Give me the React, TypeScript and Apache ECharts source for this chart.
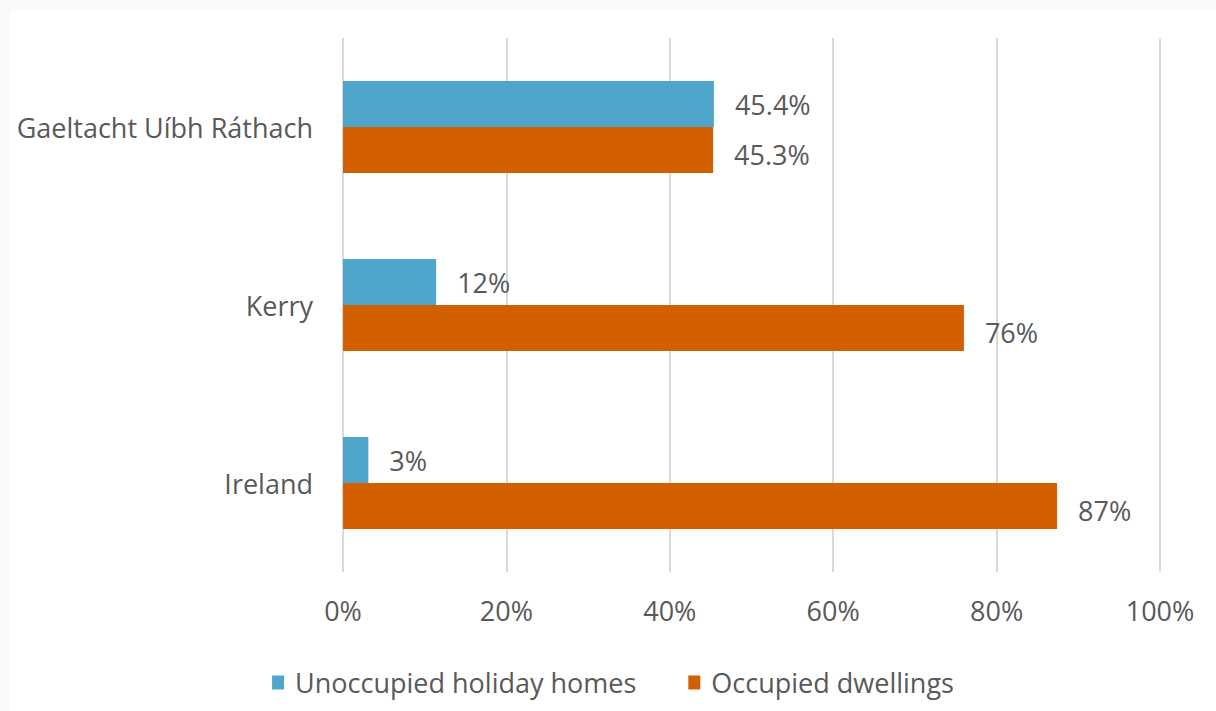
import React, { useEffect, useRef } from "react";
import * as echarts from "echarts";

const categories = ["Gaeltacht Uíbh Ráthach", "Kerry", "Ireland"];
const seriesNames = ["Unoccupied holiday homes", "Occupied dwellings"];
const holidayValues = [45.4, 11.4, 3.1];
const occupiedValues = [45.3, 76.0, 87.4];
const holidayLabels = ["45.4%", "12%", "3%"];
const occupiedLabels = ["45.3%", "76%", "87%"];
const xTicks = [0, 20, 40, 60, 80, 100];

const FONT = "'Open Sans', sans-serif";
const TXT = "#595959";
const FS = 27;

export default function App() {
  const ref = useRef<HTMLDivElement>(null);
  useEffect(() => {
    document.body.style.margin = "0";
    const chart = echarts.init(ref.current!, undefined, { renderer: "svg" });
    chart.setOption({
      animation: false,
      backgroundColor: "#ffffff",
      textStyle: { fontFamily: FONT },
      grid: { left: 333, right: 56, top: 28, bottom: 139, containLabel: false },
      legend: {
        bottom: 10,
        left: "center",
        itemWidth: 12,
        itemHeight: 14,
        itemGap: 52,
        icon: "rect",
        textStyle: { fontFamily: FONT, fontSize: FS, color: TXT, padding: [0, 0, 0, 6] },
        data: seriesNames,
      },
      xAxis: {
        type: "value",
        min: xTicks[0],
        max: xTicks[xTicks.length - 1],
        interval: 20,
        axisLine: { show: false },
        axisTick: { show: false },
        splitLine: { show: true, lineStyle: { color: "#d9d9d9", width: 2 } },
        axisLabel: {
          formatter: (v: number) => `${v}%`,
          fontFamily: FONT,
          fontSize: FS,
          color: TXT,
          margin: 25,
        },
      },
      yAxis: {
        type: "category",
        inverse: true,
        data: categories,
        axisLine: { show: false },
        axisTick: { show: false },
        axisLabel: { fontFamily: FONT, fontSize: FS, color: TXT, margin: 30 },
      },
      series: [
        {
          name: seriesNames[0],
          type: "bar",
          data: holidayValues,
          barWidth: 46,
          barGap: "0%",
          itemStyle: { color: "#4fa6ca" },
          label: {
            show: true,
            position: "right",
            distance: 21,
            fontFamily: FONT,
            fontSize: FS,
            color: TXT,
            formatter: (p: any) => holidayLabels[p.dataIndex],
          },
        },
        {
          name: seriesNames[1],
          type: "bar",
          data: occupiedValues,
          barWidth: 46,
          barGap: "0%",
          itemStyle: { color: "#d26000" },
          label: {
            show: true,
            position: "right",
            distance: 21,
            offset: [0, 4],
            fontFamily: FONT,
            fontSize: FS,
            color: TXT,
            formatter: (p: any) => occupiedLabels[p.dataIndex],
          },
        },
      ],
    });
    return () => chart.dispose();
  }, []);
  return (
    <div style={{ position: "relative", width: 1216, height: 711, background: "#fafafa" }}>
      <div
        ref={ref}
        style={{ position: "absolute", left: 10, top: 10, width: 1206, height: 701, background: "#ffffff" }}
      />
    </div>
  );
}
